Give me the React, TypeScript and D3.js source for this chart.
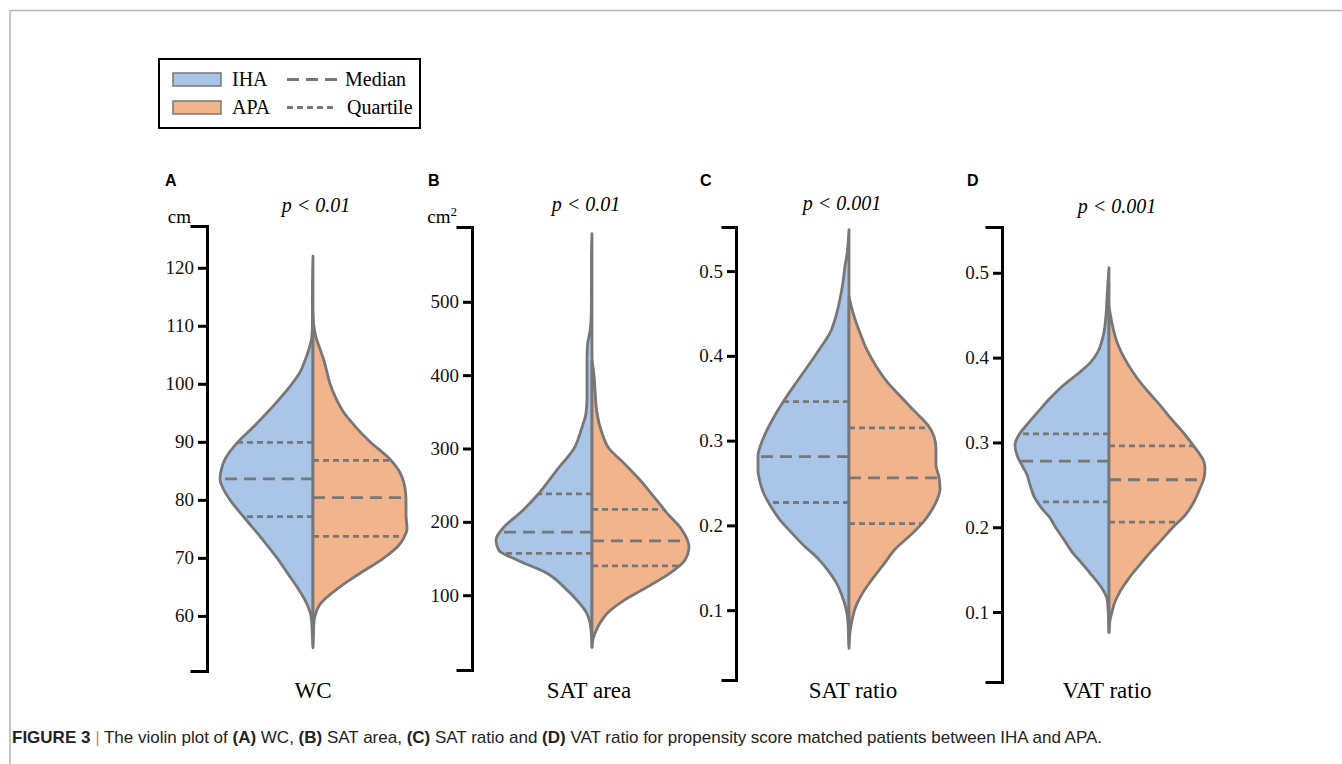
import { useEffect, useRef } from "react";
import * as d3 from "d3";

// ---- data: [value, relative density] ----
const groups = ["IHA", "APA"];
const categories = ["WC", "SAT area", "SAT ratio", "VAT ratio"];
const panelLetters = ["A", "B", "C", "D"];
const pLabels = ["p < 0.01", "p < 0.01", "p < 0.001", "p < 0.001"];
const units = ["cm", "cm2", "", ""];

const wcTicks = [60, 70, 80, 90, 100, 110, 120];
const satAreaTicks = [100, 200, 300, 400, 500];
const satRatioTicks = [0.1, 0.2, 0.3, 0.4, 0.5];
const vatRatioTicks = [0.1, 0.2, 0.3, 0.4, 0.5];

const wcIHA = [
  [54.5, 0], [56, 0.005], [58, 0.01], [60, 0.02], [62, 0.06], [65, 0.16], [67.5, 0.26], [70, 0.36],
  [73.5, 0.52], [77, 0.69], [80, 0.83], [82, 0.9], [83.5, 0.93], [85, 0.92], [87, 0.88], [90, 0.75],
  [92.5, 0.6], [95, 0.46], [97.5, 0.33], [100, 0.21], [102, 0.13], [104, 0.08], [106, 0.04], [108, 0.012],
  [110, 0.006], [114, 0.006], [118, 0.005], [122, 0],
];
const wcAPA = [
  [55, 0], [57, 0.005], [59, 0.01], [60, 0.02], [62, 0.07], [65, 0.27], [67, 0.44], [70, 0.71],
  [72, 0.85], [73.5, 0.91], [75, 0.94], [77.5, 0.93], [80, 0.93], [82, 0.92], [85, 0.86], [87, 0.77],
  [90, 0.57], [92.5, 0.43], [95, 0.31], [97.5, 0.23], [100, 0.17], [102, 0.14], [104, 0.11], [106, 0.07],
  [108, 0.03], [110, 0.008], [112, 0],
];
const satAreaIHA = [
  [29, 0], [45, 0.005], [62, 0.02], [75, 0.05], [93, 0.15], [111, 0.28], [130, 0.45], [148, 0.75],
  [161, 0.93], [175, 0.96], [193, 0.88], [212, 0.72], [239, 0.53], [271, 0.35], [300, 0.18], [329, 0.1],
  [348, 0.06], [370, 0.05], [393, 0.05], [420, 0.05], [441, 0.045], [460, 0.02], [480, 0.008],
  [520, 0.006], [560, 0.006], [593, 0],
];
const satAreaAPA = [
  [29, 0], [40, 0.01], [48, 0.03], [62, 0.08], [75, 0.15], [93, 0.32], [111, 0.55], [130, 0.78],
  [148, 0.93], [166, 0.97], [189, 0.9], [212, 0.75], [234, 0.62], [257, 0.48], [280, 0.32], [300, 0.17],
  [321, 0.1], [348, 0.05], [380, 0.03], [400, 0.02], [420, 0],
];
const satRatioIHA = [
  [0.055, 0], [0.07, 0.005], [0.085, 0.01], [0.102, 0.03], [0.117, 0.07], [0.133, 0.13], [0.147, 0.21],
  [0.161, 0.31], [0.176, 0.45], [0.192, 0.58], [0.208, 0.7], [0.224, 0.79], [0.237, 0.85], [0.251, 0.89],
  [0.265, 0.91], [0.282, 0.91], [0.296, 0.88], [0.31, 0.83], [0.33, 0.74], [0.349, 0.64], [0.368, 0.53],
  [0.388, 0.41], [0.407, 0.3], [0.427, 0.19], [0.447, 0.13], [0.467, 0.09], [0.487, 0.06], [0.506, 0.04],
  [0.52, 0.02], [0.535, 0.008], [0.549, 0],
];
const satRatioAPA = [
  [0.058, 0], [0.074, 0.01], [0.088, 0.03], [0.102, 0.06], [0.117, 0.12], [0.133, 0.21], [0.153, 0.34],
  [0.173, 0.47], [0.19, 0.63], [0.208, 0.77], [0.225, 0.86], [0.243, 0.91], [0.257, 0.9], [0.271, 0.87],
  [0.29, 0.87], [0.305, 0.85], [0.318, 0.79], [0.333, 0.67], [0.349, 0.54], [0.368, 0.39], [0.388, 0.27],
  [0.407, 0.18], [0.427, 0.11], [0.447, 0.05], [0.46, 0.02], [0.47, 0],
];
const vatRatioIHA = [
  [0.076, 0], [0.09, 0.005], [0.105, 0.01], [0.116, 0.02], [0.126, 0.06], [0.136, 0.12], [0.146, 0.19],
  [0.156, 0.26], [0.171, 0.37], [0.187, 0.46], [0.199, 0.53], [0.211, 0.59], [0.222, 0.67], [0.234, 0.74],
  [0.25, 0.79], [0.262, 0.82], [0.273, 0.87], [0.285, 0.92], [0.297, 0.94], [0.309, 0.9], [0.321, 0.82],
  [0.336, 0.71], [0.352, 0.59], [0.368, 0.45], [0.383, 0.29], [0.395, 0.18], [0.407, 0.11], [0.42, 0.07],
  [0.43, 0.05], [0.45, 0.03], [0.47, 0.02], [0.49, 0.01], [0.506, 0],
];
const vatRatioAPA = [
  [0.076, 0], [0.09, 0.01], [0.1, 0.03], [0.112, 0.06], [0.124, 0.11], [0.14, 0.2], [0.156, 0.31],
  [0.17, 0.41], [0.183, 0.51], [0.2, 0.64], [0.214, 0.76], [0.23, 0.85], [0.246, 0.91], [0.258, 0.95],
  [0.27, 0.96], [0.28, 0.94], [0.289, 0.89], [0.3, 0.82], [0.312, 0.74], [0.328, 0.62], [0.344, 0.51],
  [0.36, 0.39], [0.376, 0.28], [0.392, 0.19], [0.407, 0.12], [0.42, 0.075], [0.435, 0.04], [0.45, 0.015], [0.46, 0],
];

// [Q1, median, Q3]
const wcQuartIHA = [77.1, 83.6, 89.9];
const wcQuartAPA = [73.7, 80.4, 86.8];
const satAreaQuartIHA = [157, 186, 238];
const satAreaQuartAPA = [140, 174, 217];
const satRatioQuartIHA = [0.227, 0.281, 0.346];
const satRatioQuartAPA = [0.202, 0.256, 0.315];
const vatRatioQuartIHA = [0.23, 0.278, 0.31];
const vatRatioQuartAPA = [0.206, 0.256, 0.296];

const W = 1342;
const H = 764;
const blue = "#a9c6e8";
const orange = "#f1b48c";
const grey = "#777777";
const serif = "'Liberation Serif', 'Times New Roman', serif";
const sans = "'Liberation Sans', Arial, sans-serif";

// layout only
const layout = [
  { domain: [50.5, 127.2], range: [671, 226], axisX: 207, cx: 313, cap: 15, pX: 316, pY: 212, letterX: 165, labelX: 313, fmt: "d" },
  { domain: [-2, 602], range: [670, 227], axisX: 472, cx: 592, cap: 14, pX: 586, pY: 211, letterX: 428, labelX: 589, fmt: "d" },
  { domain: [0.0176, 0.552], range: [680, 227], axisX: 736, cx: 849, cap: 13, pX: 842, pY: 210, letterX: 700, labelX: 853, fmt: ".1f" },
  { domain: [0.0175, 0.554], range: [682, 227], axisX: 1002, cx: 1109, cap: 15, pX: 1117, pY: 213, letterX: 967, labelX: 1107, fmt: ".1f" },
];
const ticks = [wcTicks, satAreaTicks, satRatioTicks, vatRatioTicks];
const dens = [
  [wcIHA, wcAPA],
  [satAreaIHA, satAreaAPA],
  [satRatioIHA, satRatioAPA],
  [vatRatioIHA, vatRatioAPA],
];
const quarts = [
  [wcQuartIHA, wcQuartAPA],
  [satAreaQuartIHA, satAreaQuartAPA],
  [satRatioQuartIHA, satRatioQuartAPA],
  [vatRatioQuartIHA, vatRatioQuartAPA],
];

export default function App() {
  const ref = useRef<SVGSVGElement>(null);

  useEffect(() => {
    const svg = d3.select(ref.current);
    svg.selectAll("*").remove();

    // frame
    svg.append("path")
      .attr("d", `M10,${H}V10.5H${W}`)
      .attr("fill", "none")
      .attr("stroke", "#b4b4b4")
      .attr("stroke-width", 1.5);

    const wScale = d3.scaleLinear().domain([0, 1]).range([0, 100]);

    layout.forEach((L, i) => {
      const y = d3.scaleLinear().domain(L.domain).range(L.range);
      const g = svg.append("g");

      // axis
      const axis = d3.axisLeft(y)
        .tickValues(ticks[i])
        .tickSizeInner(9)
        .tickSizeOuter(L.cap)
        .tickPadding(4)
        .tickFormat(d3.format(L.fmt));
      const ax = g.append("g")
        .attr("transform", `translate(${L.axisX},0)`)
        .call(axis);
      ax.attr("font-family", serif).attr("font-size", 19);
      ax.select(".domain").attr("stroke", "#000").attr("stroke-width", 3).attr("stroke-linecap", "square");
      ax.selectAll(".tick line").attr("stroke", "#000").attr("stroke-width", 3);
      ax.selectAll(".tick text").attr("fill", "#111");

      // violins
      dens[i].forEach((data, k) => {
        const side = k === 0 ? -1 : 1;
        const area = d3.area<number[]>()
          .y((d) => y(d[0]))
          .x0(L.cx)
          .x1((d) => L.cx + side * wScale(d[1]))
          .curve(d3.curveMonotoneY);
        g.append("path")
          .datum(data)
          .attr("d", area)
          .attr("fill", k === 0 ? blue : orange)
          .attr("stroke", grey)
          .attr("stroke-width", 2.8)
          .attr("stroke-linejoin", "round");
      });

      // quartile + median lines
      dens[i].forEach((data, k) => {
        const side = k === 0 ? -1 : 1;
        const interp = d3.scaleLinear()
          .domain(data.map((d) => d[0]))
          .range(data.map((d) => d[1]));
        quarts[i][k].forEach((q, j) => {
          const x2 = L.cx + side * wScale(interp(q));
          g.append("line")
            .attr("x1", L.cx)
            .attr("x2", x2)
            .attr("y1", y(q))
            .attr("y2", y(q))
            .attr("stroke", grey)
            .attr("stroke-width", 2.8)
            .attr("stroke-dasharray", j === 1 ? "12,7" : "6,4");
        });
      });

      // labels
      g.append("text")
        .attr("x", L.letterX)
        .attr("y", 186)
        .attr("font-family", sans)
        .attr("font-weight", "bold")
        .attr("font-size", 16)
        .text(panelLetters[i]);

      g.append("text")
        .attr("x", L.pX)
        .attr("y", L.pY)
        .attr("text-anchor", "middle")
        .attr("font-family", serif)
        .attr("font-style", "italic")
        .attr("font-size", 20)
        .text(pLabels[i]);

      g.append("text")
        .attr("x", L.labelX)
        .attr("y", 698)
        .attr("text-anchor", "middle")
        .attr("font-family", serif)
        .attr("font-size", 23)
        .text(categories[i]);

      if (units[i]) {
        const u = g.append("text")
          .attr("x", L.axisX - L.cap - 1)
          .attr("y", 223)
          .attr("text-anchor", "end")
          .attr("font-family", serif)
          .attr("font-size", 19);
        if (units[i] === "cm2") {
          u.append("tspan").text("cm");
          u.append("tspan").attr("dy", -7).attr("font-size", 13).text("2");
        } else {
          u.text(units[i]);
        }
      }
    });

    // legend
    const lg = svg.append("g");
    lg.append("rect")
      .attr("x", 159).attr("y", 59).attr("width", 261).attr("height", 69)
      .attr("fill", "none").attr("stroke", "#000").attr("stroke-width", 2);
    groups.forEach((name, k) => {
      const yy = k === 0 ? 73 : 101;
      lg.append("rect")
        .attr("x", 173).attr("y", yy).attr("width", 48).attr("height", 13)
        .attr("fill", k === 0 ? blue : orange).attr("stroke", grey).attr("stroke-width", 1.5);
      lg.append("text")
        .attr("x", 232).attr("y", yy + 13)
        .attr("font-family", serif).attr("font-size", 20)
        .text(name);
      lg.append("line")
        .attr("x1", 287).attr("x2", 337).attr("y1", yy + 6.5).attr("y2", yy + 6.5)
        .attr("stroke", grey).attr("stroke-width", 2.8)
        .attr("stroke-dasharray", k === 0 ? "12,7" : "6,4");
      lg.append("text")
        .attr("x", k === 0 ? 345 : 347).attr("y", yy + 13)
        .attr("font-family", serif).attr("font-size", 20)
        .text(k === 0 ? "Median" : "Quartile");
    });

    // caption
    const cap = svg.append("text")
      .attr("x", 12).attr("y", 743)
      .attr("font-family", sans)
      .attr("font-size", 17)
      .attr("fill", "#222");
    const parts: [string, boolean, string?][] = [
      ["FIGURE 3", true],
      [" | ", false, "#999"],
      ["The violin plot of ", false],
      ["(A)", true], [" WC, ", false],
      ["(B)", true], [" SAT area, ", false],
      ["(C)", true], [" SAT ratio and ", false],
      ["(D)", true], [" VAT ratio for propensity score matched patients between IHA and APA.", false],
    ];
    parts.forEach(([t, b, c]) => {
      cap.append("tspan")
        .attr("font-weight", b ? "bold" : "normal")
        .attr("fill", c || "#222")
        .attr("xml:space", "preserve")
        .text(t);
    });
  }, []);

  return (
    <div style={{ position: "absolute", left: 0, top: 0 }}>
      <svg ref={ref} width={W} height={H} style={{ display: "block", background: "#fff" }} />
    </div>
  );
}
